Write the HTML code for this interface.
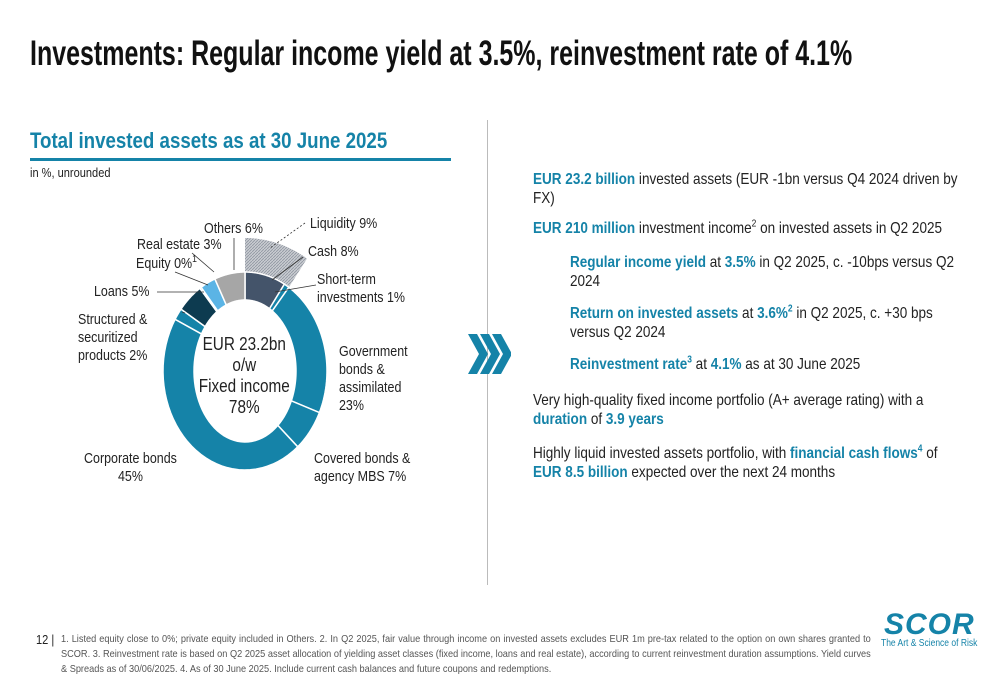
<!DOCTYPE html>
<html><head><meta charset="utf-8"><style>
body{margin:0;width:1000px;height:685px;background:#fff;position:relative;overflow:hidden;font-family:"Liberation Sans",sans-serif;color:#222}
.a{position:absolute;white-space:nowrap;transform-origin:0 0}
.b{color:#1583a8;font-weight:bold}
.rt{font-size:16px;line-height:19px;color:#222;transform:scaleX(0.845)}
sup{font-size:10px;line-height:0}
.lbl{position:absolute;font-size:14.5px;line-height:18px;color:#222;transform-origin:0 0;transform:scaleX(0.86);white-space:nowrap}
</style></head><body>
<div class="a" style="left:30px;top:34px;font-size:35px;font-weight:bold;color:#111;transform:scaleX(0.714)">Investments: Regular income yield at 3.5%, reinvestment rate of 4.1%</div>
<div class="a" style="left:30px;top:128px;font-size:22px;font-weight:bold;color:#1583a8;transform:scaleX(0.85)">Total invested assets as at 30 June 2025</div>
<div class="a" style="left:30px;top:158px;width:421px;height:3px;background:#1583a8"></div>
<div class="a" style="left:30px;top:165px;font-size:13px;transform:scaleX(0.85)">in %, unrounded</div>
<div class="a" style="left:487px;top:120px;width:1px;height:465px;background:#bbb"></div>
<svg class="a" style="left:0;top:0" width="480" height="600" id="ch">
<defs><pattern id="hat" width="3" height="3" patternUnits="userSpaceOnUse"><rect width="3" height="3" fill="#c9ccd1"/><path d="M0 3L3 0" stroke="#8e95a0" stroke-width="0.8"/></pattern></defs>
</svg>
<div class="lbl" style="left:310px;top:215px">Liquidity 9%</div>
<div class="lbl" style="left:308px;top:243px">Cash 8%</div>
<div class="lbl" style="left:317px;top:271px">Short-term<br>investments 1%</div>
<div class="lbl" style="left:339px;top:343px">Government<br>bonds &amp;<br>assimilated<br>23%</div>
<div class="lbl" style="left:314px;top:450px">Covered bonds &amp;<br>agency MBS 7%</div>
<div class="lbl" style="left:84px;top:450px;width:108px;text-align:center">Corporate bonds<br>45%</div>
<div class="lbl" style="left:78px;top:311px">Structured &amp;<br>securitized<br>products 2%</div>
<div class="lbl" style="left:94px;top:283px">Loans 5%</div>
<div class="lbl" style="left:136px;top:255px">Equity 0%<sup>1</sup></div>
<div class="lbl" style="left:137px;top:236px">Real estate 3%</div>
<div class="lbl" style="left:204px;top:220px">Others 6%</div>
<div class="a" style="left:189px;top:334px;width:130px;text-align:center;font-size:18px;line-height:21px;transform:scaleX(0.85)">EUR 23.2bn<br>o/w<br>Fixed income<br>78%</div>
<svg class="a" style="left:466px;top:332px" width="45" height="46"><g fill="#1583a8"><path d="M2 2h9l11 20-11 20H2l11-20z"/><path d="M14 2h9l11 20-11 20h-9l11-20z"/><path d="M26 2h9l11 20-11 20h-9l11-20z"/></g></svg>
<div class="a rt" style="left:533px;top:170px;white-space:normal;width:520px"><span class="b">EUR 23.2 billion</span> invested assets (EUR -1bn versus Q4 2024 driven by FX)</div>
<div class="a rt" style="left:533px;top:219px"><span class="b">EUR 210 million</span> investment income<sup>2</sup> on invested assets in Q2 2025</div>
<div class="a rt" style="left:570px;top:253px;white-space:normal;width:470px"><span class="b">Regular income yield</span> at <span class="b">3.5%</span> in Q2 2025, c. -10bps versus Q2 2024</div>
<div class="a rt" style="left:570px;top:304px;white-space:normal;width:470px"><span class="b">Return on invested assets</span> at <span class="b">3.6%<sup>2</sup></span> in Q2 2025, c. +30 bps versus Q2 2024</div>
<div class="a rt" style="left:570px;top:355px"><span class="b">Reinvestment rate<sup>3</sup></span> at <span class="b">4.1%</span> as at 30 June 2025</div>
<div class="a rt" style="left:533px;top:391px;white-space:normal;width:490px">Very high-quality fixed income portfolio (A+ average rating) with a <span class="b">duration</span> of <span class="b">3.9 years</span></div>
<div class="a rt" style="left:533px;top:444px;white-space:normal;width:510px">Highly liquid invested assets portfolio, with <span class="b">financial cash flows<sup>4</sup></span> of <span class="b">EUR 8.5 billion</span> expected over the next 24 months</div>
<div class="a" style="left:36px;top:632px;font-size:13px;transform:scaleX(0.85)">12 |</div>
<div class="a" style="left:61px;top:632px;width:915px;white-space:normal;font-size:10.4px;line-height:15px;color:#555;text-align:justify;transform:scaleX(0.885)">1. Listed equity close to 0%; private equity included in Others. 2. In Q2 2025, fair value through income on invested assets excludes EUR 1m pre-tax related to the option on own shares granted to SCOR. 3. Reinvestment rate is based on Q2 2025 asset allocation of yielding asset classes (fixed income, loans and real estate), according to current reinvestment duration assumptions. Yield curves &amp; Spreads as of 30/06/2025. 4. As of 30 June 2025. Include current cash balances and future coupons and redemptions.</div>
<div class="a" style="left:884px;top:608px;font-size:30px;font-weight:bold;font-style:italic;color:#1583a8;letter-spacing:1px">SCOR</div>
<div class="a" style="left:881px;top:638px;font-size:10px;color:#1583a8;transform:scaleX(0.85)">The Art &amp; Science of Risk</div>
<script>
const categories=["Cash","Short-term investments","Government bonds","Covered bonds","Corporate bonds","Structured products","Loans","Equity","Real estate","Others"];
const shares=[8,1,23,7,45,2,5,0.3,3,6];
const colors=["#44546a","#1583a8","#1583a8","#1583a8","#1583a8","#1583a8","#0d3b50","#1583a8","#5bb4e5","#a6a6a6"];
const liquidityShare=9;
const svg=document.getElementById('ch');const NS="http://www.w3.org/2000/svg";
const cx=245,cy=371,ORX=82,ORY=99,IRX=51,IRY=71;
function pt(a,rx,ry){return [cx+rx*Math.sin(a),cy-ry*Math.cos(a)];}
function ang(p){return p/100*2*Math.PI;}
function wedge(a0,a1,orx,ory,irx,iry){let d="";const n=40;
for(let i=0;i<=n;i++){const a=a0+(a1-a0)*i/n;const p=pt(a,orx,ory);d+=(i?"L":"M")+p[0].toFixed(2)+" "+p[1].toFixed(2);}
for(let i=n;i>=0;i--){const a=a0+(a1-a0)*i/n;const p=pt(a,irx,iry);d+="L"+p[0].toFixed(2)+" "+p[1].toFixed(2);}
return d+"Z";}
const tot=shares.reduce((a,b)=>a+b,0);
const lq=document.createElementNS(NS,'path');
lq.setAttribute('d',wedge(0,ang(liquidityShare/tot*100),ORX+34,ORY+34,ORX,ORY));
lq.setAttribute('fill','url(#hat)');


svg.appendChild(lq);
let acc=0;
shares.forEach((s,i)=>{const a0=ang(acc/tot*100),a1=ang((acc+s)/tot*100);acc+=s;
const p=document.createElementNS(NS,'path');
p.setAttribute('d',wedge(a0,a1,ORX,ORY,IRX,IRY));
p.setAttribute('fill',colors[i]);p.setAttribute('stroke','#fff');p.setAttribute('stroke-width','1.5');


svg.appendChild(p);});
const lines=[[305,223,270,248,1],[303,257,272,280,0],[316,285,275,292,0],[185,313,182,312,0],[157,292,204,292,0],[175,272,208,285,0],[192,253,214,272,0],[234,238,234,270,0]];
lines.forEach(l=>{const e=document.createElementNS(NS,'line');e.setAttribute('x1',l[0]);e.setAttribute('y1',l[1]);e.setAttribute('x2',l[2]);e.setAttribute('y2',l[3]);e.setAttribute('stroke','#333');e.setAttribute('stroke-width','0.8');if(l[4])e.setAttribute('stroke-dasharray','2 2');


svg.appendChild(e);});
</script>
</body></html>
